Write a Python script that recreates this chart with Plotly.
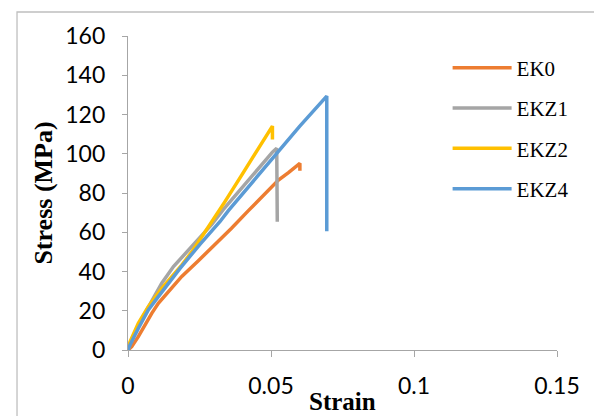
import plotly.graph_objects as go

# Data
ek0_strain = [0.0, 0.0013, 0.0036, 0.0059, 0.0083, 0.0106, 0.0141, 0.0188, 0.0246, 0.0304,
              0.0362, 0.0421, 0.048, 0.0526, 0.0561, 0.0601, 0.0601]
ek0_stress = [0.0, 1.7, 6.8, 12.7, 18.7, 23.8, 29.7, 37.5, 45.5, 53.5,
              62.0, 71.0, 80.0, 86.6, 90.4, 95.1, 91.4]

ekz1_strain = [0.0, 0.0007, 0.0036, 0.0071, 0.0118, 0.0159, 0.0223, 0.0293, 0.0333, 0.0374,
               0.0456, 0.0485, 0.0505, 0.052, 0.0522]
ekz1_stress = [0.0, 3.4, 12.7, 22.1, 34.0, 42.5, 52.5, 64.0, 71.5, 78.5,
               93.0, 97.5, 100.8, 102.8, 65.4]

ekz2_strain = [0.0, 0.0007, 0.0036, 0.0071, 0.0118, 0.0164, 0.0188, 0.0223, 0.0281, 0.0339,
               0.0397, 0.045, 0.0505, 0.0505]
ekz2_stress = [0.0, 4.2, 13.6, 22.1, 31.4, 39.1, 43.3, 50.0, 62.5, 75.6,
               89.0, 101.5, 114.1, 107.3]

ekz4_strain = [0.0, 0.0007, 0.0036, 0.0071, 0.0106, 0.0153, 0.0182, 0.025, 0.0322, 0.0351,
               0.042, 0.052, 0.06, 0.0695, 0.0695]
ekz4_stress = [0.0, 2.5, 11.0, 20.4, 27.2, 36.0, 41.6, 53.6, 65.5, 71.0,
               83.0, 100.5, 114.0, 129.4, 60.5]

series = [
    ("EK0", ek0_strain, ek0_stress, "#ED7D31"),
    ("EKZ1", ekz1_strain, ekz1_stress, "#A5A5A5"),
    ("EKZ2", ekz2_strain, ekz2_stress, "#FFC000"),
    ("EKZ4", ekz4_strain, ekz4_stress, "#5B9BD5"),
]

x_ticks = [0, 0.05, 0.1, 0.15]
x_tick_labels = ["0", "0.05", "0.1", "0.15"]
y_ticks = [0, 20, 40, 60, 80, 100, 120, 140, 160]
x_title = "Strain"
y_title = "Stress (MPa)"

fig = go.Figure()
for name, xs, ys, col in series:
    fig.add_trace(go.Scatter(
        x=xs, y=ys, mode="lines", name=name, legendgroup=name,
        line=dict(color=col, width=3.5),
    ))

axis_col = "#A6A6A6"
fig.update_layout(
    width=602, height=416,
    margin=dict(l=120, r=53, t=28, b=74),
    paper_bgcolor="white", plot_bgcolor="white",
    showlegend=True,
    legend=dict(
        x=0.745, y=0.963, xanchor="left", yanchor="top",
        font=dict(family="Liberation Serif", size=21, color="black"),
        traceorder="grouped", tracegroupgap=10, itemwidth=59,
        bgcolor="rgba(0,0,0,0)",
    ),
    xaxis=dict(
        range=[0, 0.15], tickmode="array", tickvals=x_ticks, ticktext=x_tick_labels,
        showgrid=False, zeroline=False, showline=True, linecolor=axis_col, linewidth=1.3,
        ticks="outside", ticklen=6, tickcolor=axis_col, tickwidth=1.3,
        ticklabelstandoff=9, automargin=False,
        tickfont=dict(family="Lato", size=23, color="black"),
    ),
    yaxis=dict(
        range=[0, 160], tickmode="array", tickvals=y_ticks,
        showgrid=False, zeroline=False, showline=True, linecolor=axis_col, linewidth=1.3,
        ticks="outside", ticklen=5, tickcolor=axis_col, tickwidth=1.3,
        ticklabelstandoff=12, automargin=False,
        tickfont=dict(family="Lato", size=23, color="black"),
        title=dict(text="<b>" + y_title + "</b>", font=dict(family="Liberation Serif", size=26, color="black"), standoff=5),
    ),
    annotations=[dict(
        text="<b>" + x_title + "</b>", xref="paper", yref="paper", x=0.5, y=-0.164,
        xanchor="center", yanchor="middle", showarrow=False,
        font=dict(family="Liberation Serif", size=25, color="black"),
    )],
    shapes=[dict(
        type="rect", xref="paper", yref="paper",
        x0=-0.2587, x1=1.0979, y0=-0.25, y1=1.0764,
        line=dict(color="#BFBFBF", width=1.3), fillcolor="rgba(0,0,0,0)", layer="below",
    )],
)

fig.write_html("out.html")
